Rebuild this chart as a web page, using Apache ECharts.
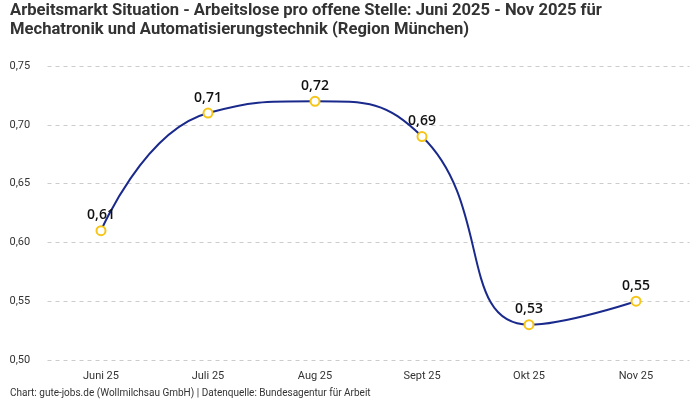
<!DOCTYPE html>
<html><head><meta charset="utf-8">
<script src="https://cdn.jsdelivr.net/npm/echarts@6/dist/echarts.min.js"></script>
<style>html,body{margin:0;padding:0;background:#fff}#c{width:700px;height:400px}</style>
</head><body><div id="c"></div>
<script>
var categories = ["Juni 25","Juli 25","Aug 25","Sept 25","Okt 25","Nov 25"];
var values = [0.61,0.71,0.72,0.69,0.53,0.55];
var titleText = "Arbeitsmarkt Situation - Arbeitslose pro offene Stelle: Juni 2025 - Nov 2025 für\nMechatronik und Automatisierungstechnik (Region München)";
var footerText = "Chart: gute-jobs.de (Wollmilchsau GmbH) | Datenquelle: Bundesagentur für Arbeit";
var fmt = function(v){return v.toFixed(2).replace('.',',');};
var chart = echarts.init(document.getElementById('c'));
chart.setOption({
  animation:false,
  title:[{text:titleText,left:10,top:1,padding:0,textStyle:{fontFamily:'Roboto',fontWeight:'bold',fontSize:16.6,color:'#333',lineHeight:19}},
         {text:footerText,left:10,top:388,padding:0,textStyle:{fontFamily:'Roboto',fontWeight:'normal',fontSize:10,color:'#333'}}],
  grid:{left:47.5,right:10.5,top:66,bottom:40},
  xAxis:{type:'category',data:categories,boundaryGap:true,axisLine:{show:false},axisTick:{show:false},
    axisLabel:{fontFamily:'Roboto',fontSize:11,color:'#333',margin:11}},
  yAxis:{type:'value',min:0.5,max:0.75,interval:0.05,
    axisLabel:{formatter:fmt,align:'left',margin:38,fontFamily:'Roboto',fontSize:11,color:'#333'},
    splitLine:{lineStyle:{type:[4,4],color:'#ccc'}}},
  series:[{type:'line',data:values,smooth:0.5,
    lineStyle:{color:'#1a2a8c',width:2},itemStyle:{color:'#fff',borderColor:'#f5c518',borderWidth:2},
    symbol:'circle',symbolSize:9,
    label:{show:true,position:'top',distance:3,formatter:function(p){return fmt(p.value);},fontFamily:'Open Sans',fontWeight:600,fontSize:14,color:'#111'}}]
});
</script></body></html>
